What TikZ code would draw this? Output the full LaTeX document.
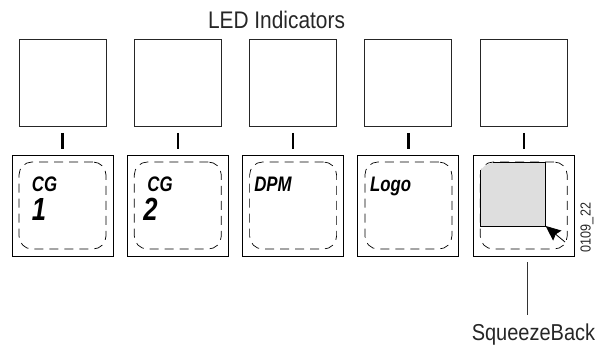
\documentclass[tikz,border=0pt]{standalone}
\usepackage{fontspec}
\setmainfont[FakeStretch=0.87]{Liberation Sans}
\newfontfamily\btnfont[FakeStretch=0.8]{Liberation Sans}
\usepackage{xcolor}
\usetikzlibrary{arrows.meta, positioning}
\definecolor{squeezegrey}{HTML}{DEDEDE}
\tikzset{
  ledbox/.style={draw=black!85, line width=0.9pt, minimum size=87pt, inner sep=0pt},
  btnbox/.style={draw=black, line width=0.9pt, minimum size=101pt, inner sep=0pt},
  safebox/.style={draw=black, line width=0.7pt, dash pattern=on 9pt off 6pt, rounded corners=13pt, minimum size=87pt, inner sep=0pt},
  tickmark/.style={draw=black, line width=2.2pt, shorten <=6pt, shorten >=6pt},
  cgtext/.style={font=\btnfont\fontsize{21}{21}\selectfont\bfseries\itshape, inner sep=0pt},
  numtext/.style={font=\btnfont\fontsize{32}{32}\selectfont\bfseries\itshape, inner sep=0pt},
  plaintext/.style={font=\fontsize{24}{24}\selectfont, text=black!85, inner sep=0pt},
}
\begin{document}
\begin{tikzpicture}[x=1pt, y=-1pt]
  \useasboundingbox (0,0) rectangle (596,350);

  % indicator row and button row
  \foreach \i in {1,...,5} {
    \node[ledbox] (led\i) at ({62.5+115.3*(\i-1)}, 83) {};
    \node[btnbox] (btn\i) at ({62.5+115.3*(\i-1)}, 205.5) {};
    \node[safebox] (safe\i) at (btn\i.center) {};
    \draw[tickmark] (led\i) -- (btn\i);
  }

  \node[plaintext] (title) at (276.5, 19.5) {LED Indicators};

  \node[cgtext] (cg1) at (44.5, 184) {CG};
  \node[numtext] (num1) at (39, 209) {1};
  \node[cgtext] (cg2) at (160, 184) {CG};
  \node[numtext] (num2) at (150.5, 209) {2};
  \node[cgtext] (dpm) at (273, 184) {DPM};
  \node[cgtext] (logo) at (390.7, 186) {Logo};

  % squeezed picture in the last button
  \draw[fill=squeezegrey, draw=none] (480.5,226.5) -- (480.5,170) -- (485,165.5) -- (493,162.5) -- (545.7,162.5) -- (545.7,226.5) -- cycle;
  \draw[line width=0.9pt] (493,162.5) -- (545.7,162.5) -- (545.7,226.5) -- (480.5,226.5) -- (480.5,170);
  \coordinate (dragfrom) at (565,242);
  \coordinate (dragto) at (545.7,226);
  \draw[-{Stealth[length=15pt, width=13pt, inset=2pt]}, line width=0.8pt] (dragfrom) -- (dragto);

  \node[rotate=90, font=\fontsize{14.5}{14.5}\selectfont, text=black!85, inner sep=0pt] (figno) at (587, 227.5) {0109\_22};

  \coordinate (squeezetop) at (527.7,262);
  \node[plaintext, font=\fontsize{23}{23}\selectfont] (squeeze) at (533.5, 335) {SqueezeBack};
  \draw[black!80, line width=0.9pt] (squeezetop) -- (squeezetop |- 0,315);
\end{tikzpicture}
\end{document}
